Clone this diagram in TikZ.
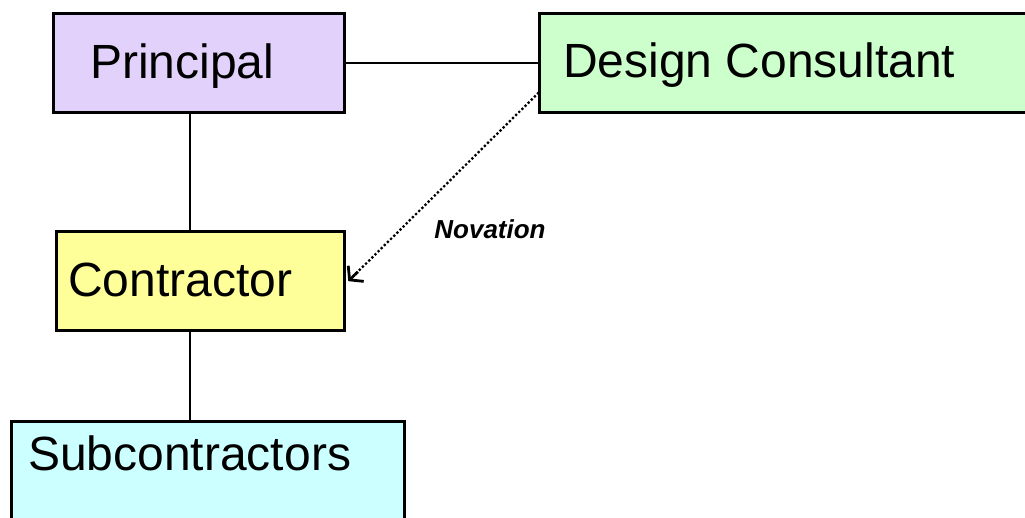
\documentclass[tikz,border=0pt]{standalone}
\usepackage{fontspec}
\setmainfont{Liberation Sans}
\usetikzlibrary{arrows.meta,calc}
\definecolor{cprin}{HTML}{E2D2FB}
\definecolor{cdes}{HTML}{CCFFCC}
\definecolor{ccon}{HTML}{FFFF99}
\definecolor{csub}{HTML}{CCFFFF}
\tikzset{
  boxnode/.style={draw=black, line width=3.3pt, rectangle, anchor=north west, inner sep=0pt},
  boxtext/.style={anchor=base west, inner sep=0pt, font=\fontsize{48}{52}\selectfont},
  link/.style={draw=black, line width=2.2pt},
  novlink/.style={draw=black, line width=3.2pt, line cap=round, dash pattern=on 0pt off 4.4pt},
  novtip/.style={draw=black, line width=2.8pt, solid, -{Straight Barb[length=9pt,width=22pt]}},
  novlabel/.style={inner sep=0pt, font=\fontsize{26}{30}\selectfont\bfseries\itshape}
}
\begin{document}
\begin{tikzpicture}[x=1pt,y=-1pt]
\useasboundingbox (0,0) rectangle (1025,518);
\node[boxnode, fill=cprin, minimum width=291pt, minimum height=99pt] (pr) at (52,12) {};
\node[boxnode, fill=cdes, minimum width=520pt, minimum height=99pt] (dc) at (538,12) {};
\node[boxnode, fill=ccon, minimum width=288pt, minimum height=99pt] (ct) at (55,230) {};
\node[boxnode, fill=csub, minimum width=393pt, minimum height=130pt] (sc) at (10,420) {};
\node[boxtext] (prt) at (90,79) {Principal};
\node[boxtext] (dct) at (563,78) {Design Consultant};
\node[boxtext] (ctt) at (68,297) {Contractor};
\node[boxtext] (sct) at (28,470) {Subcontractors};
\coordinate (nvs) at ([yshift=21pt]dc.south west);
\coordinate (nve) at ([xshift=2pt]ct.east);
\draw[link] (pr.east) -- (pr.east -| dc.west);
\draw[link] (pr.south -| 190,0) -- (ct.north -| 190,0);
\draw[link] (ct.south -| 190,0) -- (sc.north -| 190,0);
\draw[novlink] (nvs) -- (nve);
\draw[novtip] ($(nve)!0.05!(nvs)$) -- (nve);
\node[novlabel] (nov) at (490,229) {Novation};
\end{tikzpicture}
\end{document}
